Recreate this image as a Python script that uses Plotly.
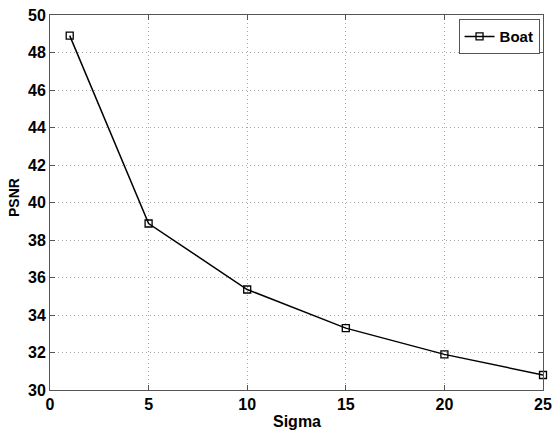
import plotly.graph_objects as go

sigma = [1, 5, 10, 15, 20, 25]
psnr = [48.9, 38.88, 35.36, 33.3, 31.9, 30.8]
x_ticks = [0, 5, 10, 15, 20, 25]
y_ticks = [30, 32, 34, 36, 38, 40, 42, 44, 46, 48, 50]

fig = go.Figure()
fig.add_trace(go.Scatter(
    x=sigma, y=psnr, mode="lines+markers", name="Boat",
    line=dict(color="black", width=1.5),
    marker=dict(symbol="square-open", size=7, color="black", line=dict(width=1.3)),
    cliponaxis=False,
))

axis_common = dict(
    showgrid=True, gridcolor="#a8a8a8", griddash="1px,3px", gridwidth=1,
    showline=True, linecolor="#555555", linewidth=1, mirror="ticks",
    ticks="inside", ticklen=5, tickcolor="#555555",
    zeroline=False, automargin=False,
    tickfont=dict(family="Liberation Sans", size=16, color="black", weight="bold"),
)

title_font = dict(family="Liberation Sans", color="black", weight="bold")

fig.update_layout(
    width=552, height=432,
    paper_bgcolor="white", plot_bgcolor="white",
    margin=dict(l=50, r=9, t=15, b=42, autoexpand=False),
    font=dict(family="Liberation Sans", color="black"),
    showlegend=True,
    legend=dict(
        x=0.993, y=0.989, xanchor="right", yanchor="top",
        bordercolor="#555555", borderwidth=1, bgcolor="white",
        font=dict(family="Liberation Sans", size=15, color="black", weight="bold"),
        itemwidth=30,
    ),
    xaxis=dict(range=[0, 25], tickvals=x_ticks, **axis_common),
    yaxis=dict(range=[30, 50], tickvals=y_ticks, **axis_common),
    annotations=[
        dict(text="Sigma", xref="paper", yref="paper", x=0.501, y=0,
             xanchor="center", yanchor="middle", yshift=-31, showarrow=False,
             font=dict(size=16, **title_font)),
        dict(text="PSNR", xref="paper", yref="paper", x=0, y=0.512,
             xanchor="center", yanchor="middle", xshift=-36, textangle=-90,
             showarrow=False, font=dict(size=14, **title_font)),
    ],
)

fig.write_html("out.html", config={"displayModeBar": False},
               post_script="document.body.style.margin='0';document.body.style.overflow='hidden';")
